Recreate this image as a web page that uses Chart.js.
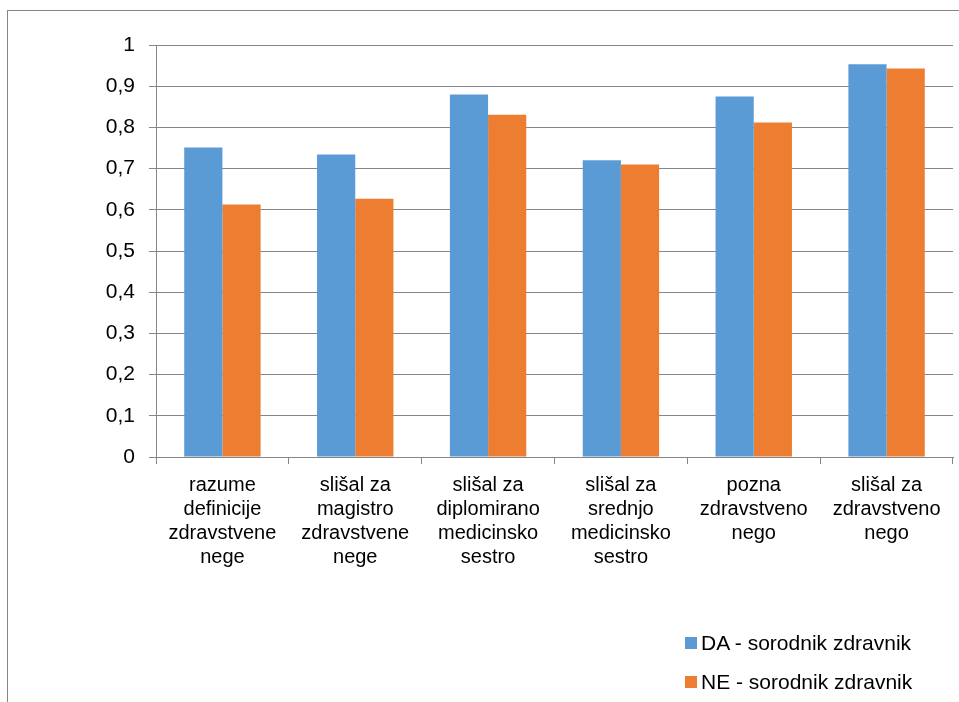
<!DOCTYPE html>
<html lang="sl">
<head>
<meta charset="UTF-8">
<title>Sorodnik zdravnik</title>
<style>
    html, body {
        margin: 0;
        padding: 0;
        background: #fff;
    }
    #wrap {
        position: relative;
        width: 959px;
        height: 702px;
        overflow: hidden;
    }
    #frame {
        position: absolute;
        left: 7px;
        top: 10px;
        width: 960px;
        height: 700px;
        border-left: 1px solid #868686;
        border-top: 1px solid #868686;
        box-sizing: border-box;
    }
    #myChart {
        position: absolute;
        left: 0;
        top: 0;
    }
    #legend {
        position: absolute;
        left: 685px;
        top: 623px;
        font-family: "Liberation Sans", Arial, sans-serif;
        font-size: 21px;
        color: #000;
    }
    .item {
        height: 39px;
        display: flex;
        align-items: center;
        white-space: nowrap;
    }
    .box {
        width: 12px;
        height: 12px;
        margin-right: 4px;
    }
</style>
</head>
<body>
<div id="wrap">
    <div id="frame"></div>
    <canvas id="myChart" width="959" height="702"></canvas>
    <div id="legend"></div>
</div>

<script src="https://cdn.jsdelivr.net/npm/chart.js@4.4.1/dist/chart.umd.min.js"></script>
<script>
    // categories (multi-line labels as in the original)
    const categories = [
        ['razume', 'definicije', 'zdravstvene', 'nege'],
        ['slišal za', 'magistro', 'zdravstvene', 'nege'],
        ['slišal za', 'diplomirano', 'medicinsko', 'sestro'],
        ['slišal za', 'srednjo', 'medicinsko', 'sestro'],
        ['pozna', 'zdravstveno', 'nego'],
        ['slišal za', 'zdravstveno', 'nego']
    ];
    const seriesNames = ['DA - sorodnik zdravnik', 'NE - sorodnik zdravnik'];
    const daValues = [0.751, 0.734, 0.880, 0.720, 0.875, 0.953];
    const neValues = [0.613, 0.627, 0.831, 0.710, 0.812, 0.943];
    const colors = ['#5B9BD5', '#ED7D31'];
    const yTickLabels = ['0', '0,1', '0,2', '0,3', '0,4', '0,5', '0,6', '0,7', '0,8', '0,9', '1'];

    const gridColor = '#868686';
    const fontFamily = '"Liberation Sans", Arial, sans-serif';

    let ctx = document.getElementById('myChart').getContext('2d');
    let chart = new Chart(ctx, {
        type: 'bar',
        data: {
            labels: categories,
            datasets: [{
                label: seriesNames[0],
                data: daValues,
                backgroundColor: colors[0]
            }, {
                label: seriesNames[1],
                data: neValues,
                backgroundColor: colors[1]
            }]
        },
        options: {
            responsive: false,
            animation: false,
            layout: {
                padding: { left: 0, top: 45, right: 6, bottom: 0 }
            },
            plugins: {
                legend: { display: false },
                tooltip: { enabled: false }
            },
            datasets: {
                bar: {
                    barPercentage: 1,
                    categoryPercentage: 0.575
                }
            },
            scales: {
                x: {
                    afterFit: function(scale) { scale.height = 245; },
                    grid: {
                        offset: true,
                        drawOnChartArea: false,
                        drawTicks: true,
                        tickLength: 7,
                        color: gridColor
                    },
                    border: { color: gridColor },
                    ticks: {
                        color: '#000',
                        padding: 9,
                        maxRotation: 0,
                        autoSkip: false,
                        font: { family: fontFamily, size: 20, lineHeight: 1.2 }
                    }
                },
                y: {
                    min: 0,
                    max: 1,
                    afterFit: function(scale) { scale.width = 156; },
                    grid: {
                        color: gridColor,
                        tickLength: 7
                    },
                    border: { color: gridColor },
                    ticks: {
                        stepSize: 0.1,
                        color: '#000',
                        padding: 14,
                        font: { family: fontFamily, size: 21 },
                        callback: function(value, index) { return yTickLabels[index]; }
                    }
                }
            }
        }
    });

    // legend as html, stacked like the original
    let legend = document.getElementById('legend');
    chart.data.datasets.forEach(function(ds) {
        let item = document.createElement('div');
        item.className = 'item';
        let box = document.createElement('span');
        box.className = 'box';
        box.style.background = ds.backgroundColor;
        let txt = document.createElement('span');
        txt.textContent = ds.label;
        item.appendChild(box);
        item.appendChild(txt);
        legend.appendChild(item);
    });
</script>
</body>
</html>
